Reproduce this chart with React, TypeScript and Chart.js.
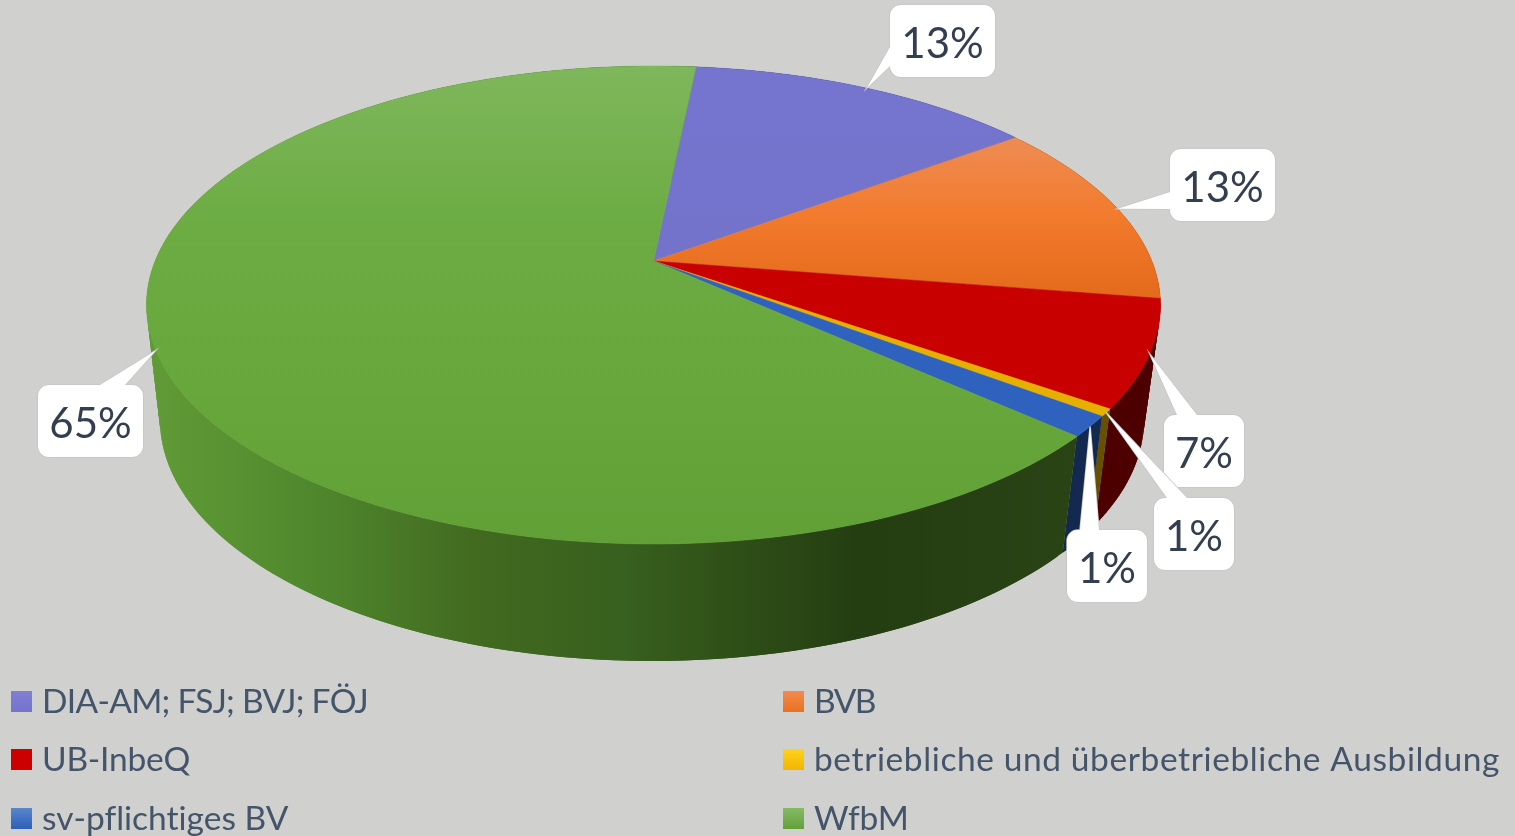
import React, { useEffect, useRef } from "react";
import { Chart, registerables } from "chart.js";

Chart.register(...registerables);

const categories = [
  "DIA-AM; FSJ; BVJ; FÖJ",
  "BVB",
  "UB-InbeQ",
  "betriebliche und überbetriebliche Ausbildung",
  "sv-pflichtiges BV",
  "WfbM",
];
const shares = [13.3, 12.6, 7.2, 0.5, 1.4, 65.0];
const rotationDeg = 5.8;

const baseColors = ["#7575CF", "#F27A2C", "#C80000", "#E6B000", "#2F62BE", "#66A63A"];
const wallColors = ["#3A3A78", "#7A3C10", "#4D0000", "#675000", "#13294F", ""];
const topStops: string[][] = [
  ["#7575CF", "#7373CC"],
  ["#EE8C54", "#F27A2C", "#E4691B"],
  ["#C80000", "#C80000"],
  ["#E6B000", "#E6B000"],
  ["#2F62BE", "#2F62BE"],
  ["#7FB75C", "#6CAC43", "#67A73B", "#61A036"],
];
const swatchStops: string[][] = [
  ["#7F7FD6", "#7373CC"],
  ["#F48A4E", "#E8701F"],
  ["#CC0000", "#CC0000"],
  ["#FFD21F", "#F0B400"],
  ["#5B86CC", "#2A5DB8"],
  ["#86BB66", "#61A036"],
];
const greenWallStops: [number, string][] = [
  [0, "#609A36"],
  [0.15, "#518A2E"],
  [0.35, "#41691F"],
  [0.5, "#38601E"],
  [0.76, "#243D11"],
  [1, "#2B4416"],
];

// Perspective geometry of the tilted disc
const TOP = { cx: 653.5, cy: 305, rx: 507, ry: 239 };
const BASE = { cx: 652, cy: 420, rx: 492, ry: 241 };
const PERSPECTIVE = 0.184;

// Callout boxes: one per category [left, top, width, height, tail base x1, y1, x2, y2]
const calloutBoxes = [
  [890, 5, 105, 72, 890, 47, 890, 66],
  [1170, 149, 105, 72, 1170, 192, 1170, 209],
  [1164, 415, 80, 72, 1177, 415, 1197, 415],
  [1154, 498, 80, 72, 1167, 498, 1187, 498],
  [1067, 530, 80, 72, 1080, 530, 1099, 530],
  [38, 385, 105, 72, 100, 385, 125, 385],
];
const legendPositions = [
  [11, 702],
  [783, 702],
  [11, 760],
  [783, 760],
  [11, 819],
  [783, 819],
];
// Rendered label widths in the reference, used to fit the substitute font
const legendWidths = [326, 61, 148, 686, 247, 95];

function project(g: typeof TOP, angle: number, r = 1) {
  const u = Math.cos(angle) * r;
  const v = Math.sin(angle) * r;
  const d = 1 - PERSPECTIVE * v;
  return {
    x: g.cx + (g.rx * (u * Math.sqrt(1 - PERSPECTIVE * PERSPECTIVE))) / d,
    y: g.cy + (g.ry * (v - PERSPECTIVE)) / d,
  };
}

function linear(ctx: CanvasRenderingContext2D, x0: number, y0: number, x1: number, y1: number, stops: string[]) {
  const g = ctx.createLinearGradient(x0, y0, x1, y1);
  stops.forEach((c, i) => g.addColorStop(i / (stops.length - 1), c));
  return g;
}

const pie3d = {
  id: "pie3d",
  beforeDatasetsDraw(chart: any) {
    const ctx: CanvasRenderingContext2D = chart.ctx;
    const arcs = chart.getDatasetMeta(0).data;
    const STEP = Math.PI / 180;
    const samples = (a: any) => {
      const out: number[] = [];
      const n = Math.max(2, Math.ceil((a.endAngle - a.startAngle) / STEP));
      for (let k = 0; k <= n; k++) out.push(a.startAngle + ((a.endAngle - a.startAngle) * k) / n);
      return out;
    };
    ctx.save();
    // walls: each strip overlaps the next so no seams show
    arcs.forEach((a: any, i: number) => {
      let style: any = wallColors[i];
      if (!style) {
        const g = ctx.createLinearGradient(BASE.cx - BASE.rx, 0, BASE.cx + BASE.rx - 60, 0);
        greenWallStops.forEach(([p, c]) => g.addColorStop(p, c));
        style = g;
      }
      ctx.fillStyle = style;
      const s = samples(a);
      for (let k = s.length - 2; k >= 0; k--) {
        const next = s[Math.min(k + 2, s.length - 1)];
        const p1 = project(TOP, s[k]);
        const p2 = project(TOP, next);
        const p3 = project(BASE, next);
        const p4 = project(BASE, s[k]);
        ctx.beginPath();
        ctx.moveTo(p1.x, p1.y);
        ctx.lineTo(p2.x, p2.y);
        ctx.lineTo(p3.x, p3.y);
        ctx.lineTo(p4.x, p4.y);
        ctx.closePath();
        ctx.fill();
      }
    });
    // top faces
    const centre = project(TOP, 0, 0);
    arcs.forEach((a: any, i: number) => {
      const pts = samples(a).map((t) => project(TOP, t));
      const ys = pts.map((p) => p.y).concat(centre.y);
      const fill = linear(ctx, 0, Math.min(...ys), 0, Math.max(...ys), topStops[i]);
      ctx.fillStyle = fill;
      ctx.strokeStyle = fill;
      ctx.lineWidth = 0.5;
      ctx.beginPath();
      ctx.moveTo(centre.x, centre.y);
      pts.forEach((p) => ctx.lineTo(p.x, p.y));
      ctx.closePath();
      ctx.fill();
      ctx.stroke();
    });
    // callouts
    arcs.forEach((a: any, i: number) => {
      const [l, t, w, h, bx1, by1, bx2, by2] = calloutBoxes[i];
      const tip = project(TOP, (a.startAngle + a.endAngle) / 2, 1);
      ctx.fillStyle = "#FFFFFF";
      ctx.strokeStyle = "#C6C6C6";
      ctx.lineWidth = 1.5;
      ctx.beginPath();
      ctx.roundRect(l, t, w, h, 11);
      ctx.moveTo(bx1, by1);
      ctx.lineTo(tip.x, tip.y);
      ctx.lineTo(bx2, by2);
      ctx.closePath();
      ctx.stroke();
      ctx.fill();
      ctx.fillStyle = "#333F50";
      ctx.font = "42px Lato";
      ctx.textAlign = "center";
      ctx.textBaseline = "middle";
      ctx.fillText(`${Math.round(shares[i])}%`, l + w / 2, t + h / 2 + 3);
    });
    // legend
    categories.forEach((label, i) => {
      const [x, y] = legendPositions[i];
      ctx.fillStyle = linear(ctx, 0, y - 11, 0, y + 11, swatchStops[i]);
      ctx.fillRect(x, y - 11, 21, 21);
      ctx.fillStyle = "#44546A";
      ctx.font = "33.5px Lato";
      ctx.textAlign = "left";
      ctx.textBaseline = "middle";
      (ctx as any).letterSpacing = "0px";
      const natural = ctx.measureText(label).width;
      (ctx as any).letterSpacing = `${(legendWidths[i] - natural) / label.length}px`;
      ctx.fillText(label, x + 31, y);
      (ctx as any).letterSpacing = "0px";
    });
    ctx.restore();
    return false;
  },
};

export default function App() {
  const ref = useRef<HTMLCanvasElement>(null);
  useEffect(() => {
    document.body.style.margin = "0";
    document.body.style.background = "#D0D0CE";
    const chart = new Chart(ref.current!, {
      type: "pie",
      data: {
        labels: categories,
        datasets: [{ data: shares, backgroundColor: baseColors, borderWidth: 0 }],
      },
      options: {
        animation: false,
        responsive: false,
        rotation: rotationDeg,
        plugins: { legend: { display: false }, tooltip: { enabled: false } },
      },
      plugins: [pie3d],
    } as any);
    return () => chart.destroy();
  }, []);
  return <canvas ref={ref} width={1515} height={836} style={{ display: "block", background: "#D0D0CE" }} />;
}
